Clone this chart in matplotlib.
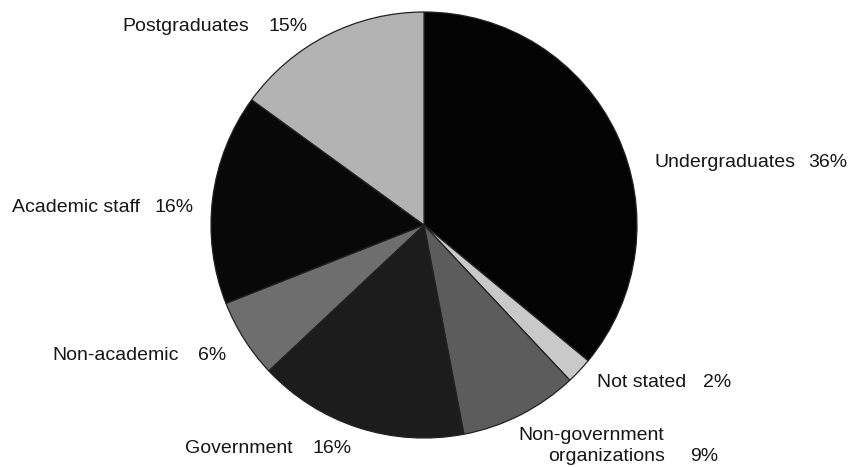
import matplotlib
matplotlib.use("Agg")
import matplotlib.pyplot as plt

categories = ["Undergraduates", "Not stated", "Non-government\norganizations",
              "Government", "Non-academic", "Academic staff", "Postgraduates"]
values = [36, 2, 9, 16, 6, 16, 15]
pct_labels = ["36%", "2%", "9%", "16%", "6%", "16%", "15%"]
colors = ["#030303", "#c9c9c9", "#5c5c5c", "#1c1c1c", "#6e6e6e", "#080808", "#b3b3b3"]

W, H = 851, 467
fig = plt.figure(figsize=(W / 100, H / 100), dpi=100)
fig.patch.set_facecolor("white")

cx, cy, r = 424, 225, 213
ax = fig.add_axes([(cx - r) / W, (H - cy - r) / H, 2 * r / W, 2 * r / H])
ax.pie(values, colors=colors, startangle=90, counterclock=False, radius=1,
       wedgeprops=dict(edgecolor="#222222", linewidth=0.9))
ax.set_xlim(-1, 1)
ax.set_ylim(-1, 1)
ax.set_aspect("equal")
ax.axis("off")

# label placements in pixels: (name_x, pct_x, baseline_y)
name_pos = [(655, 808, 167), (597, 703, 387), (518, 690, 461),
            (185, 313, 453), (52, 198, 360), (12, 154, 212), (122, 268, 31)]

font = dict(family=["Liberation Sans", "DejaVu Sans"], fontsize=14, color="#161616")
for cat, pct, (nx, px, by) in zip(categories, pct_labels, name_pos):
    if "\n" in cat:
        first, second = cat.split("\n")
        fig.text(nx / W, 1 - 440 / H, first, ha="left", va="baseline", **font)
        fig.text(548 / W, 1 - by / H, second, ha="left", va="baseline", **font)
    else:
        fig.text(nx / W, 1 - by / H, cat, ha="left", va="baseline", **font)
    fig.text(px / W, 1 - by / H, pct, ha="left", va="baseline", **font)

fig.savefig("out.png", dpi=100, facecolor="white")
